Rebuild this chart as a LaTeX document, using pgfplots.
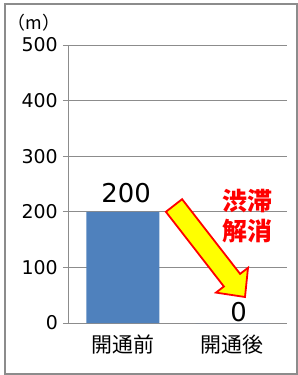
\documentclass[border=0pt]{standalone}
\usepackage{fontspec}
\setmainfont{Noto Sans CJK JP}
\newfontfamily\numfont{DejaVu Sans}
\usepackage{pgfplots}
\pgfplotsset{compat=1.18}
\definecolor{barblue}{HTML}{4F81BD}
\definecolor{gridgray}{HTML}{8C8C8C}
\definecolor{arrred}{HTML}{FF0000}
\definecolor{arryel}{HTML}{FFFF00}
\begin{document}
\begin{tikzpicture}[x=1bp,y=1bp]
\useasboundingbox (0,0) rectangle (298,375);
\draw[gridgray, line width=1.2bp] (5,1) rectangle (297,371);
\node[font=\fontsize{18}{18}\selectfont] at (34,352.5) {（m）};
\begin{axis}[
 at={(68bp,52bp)}, anchor=south west, scale only axis,
 width=219bp, height=278bp,
 xmin=-0.5, xmax=1.5, ymin=0, ymax=500,
 axis x line*=bottom, axis y line*=left,
 axis line style={gridgray, line width=1bp, -},
 ytick={0,100,...,500},
 xtick={0,1}, xticklabels={開通前,開通後},
 xtick style={draw=none},
 ymajorgrids, grid style={gridgray, line width=1bp},
 tick align=outside, major tick length=5bp,
 ytick style={gridgray, line width=1bp},
 /pgf/number format/assume math mode=true,
 yticklabel style={font=\numfont\fontsize{19}{19}\selectfont, inner sep=0pt, xshift=-5bp},
 xticklabel style={font=\fontsize{21}{21}\selectfont, yshift=-3bp},
 clip=false,
]
\addplot[ybar, bar width=73bp, fill=barblue, draw=none] coordinates {(0,200) (1,0)};
\node[font=\numfont\fontsize{26}{26}\selectfont] at (axis cs:0.03,233) {200};
\node[font=\numfont\fontsize{26}{26}\selectfont] at (axis cs:1.057,19) {0};
\end{axis}
\draw[arrred, fill=arryel, line width=1.8bp, line join=miter]
 (182.1,175.8) -- (240.1,101.1) -- (248.0,107.2) -- (245,78) -- (216.0,82.4) -- (223.9,88.5) -- (165.9,163.2) -- cycle;
\node[text=arrred, font=\fontsize{25}{30}\selectfont\bfseries, align=center] at (247.5,159) {渋滞\\解消};
\end{tikzpicture}
\end{document}
